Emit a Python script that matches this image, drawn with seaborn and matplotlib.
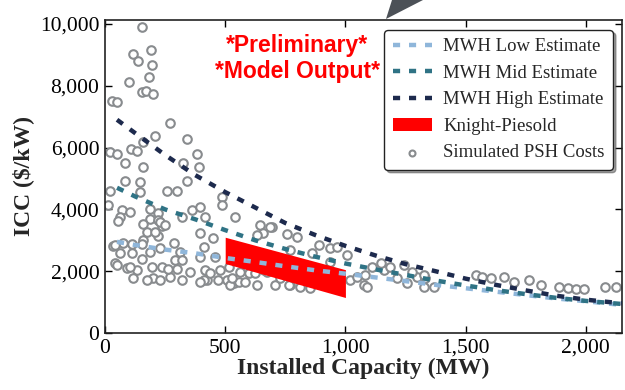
import matplotlib
matplotlib.use("Agg")
import matplotlib.pyplot as plt
from matplotlib.patches import Polygon
from matplotlib.ticker import FuncFormatter
import seaborn as sns
import pandas as pd

# MWH cost estimate curves ($/kW vs installed MW)
mwh_mw = [50, 125, 250, 375, 500, 625, 750, 875, 1000, 1125, 1250, 1375,
          1500, 1625, 1750, 1875, 2000, 2150]
mwh_low = [2950, 2850, 2700, 2580, 2430, 2300, 2160, 2030, 1920, 1800, 1680,
           1560, 1450, 1340, 1230, 1120, 1030, 910]
mwh_mid = [4700, 4420, 4000, 3680, 3330, 3000, 2720, 2470, 2250, 2060, 1880,
           1700, 1540, 1390, 1260, 1140, 1040, 940]
mwh_high = [6900, 6470, 5760, 5110, 4560, 4060, 3560, 3170, 2820, 2510, 2230,
            2000, 1760, 1560, 1380, 1210, 1080, 960]

# Knight-Piesold cost band
kp_mw = [500, 1000]
kp_low = [2250, 1150]
kp_high = [3100, 2050]

# Simulated PSH project costs
sim_mw = [153, 115, 192, 139, 194, 183, 101, 153, 170, 201, 28, 49, 271,
          208, 157, 343, 21, 49, 107, 132, 382, 83, 160, 326, 389, 340, 83, 146,
          21, 257, 299, 146, 14, 69, 104, 62, 187, 222, 187, 222, 361, 396, 320,
          160, 236, 542, 486, 486, 417, 646, 694, 757, 799, 658,
          55, 229, 250, 396, 35, 76, 111, 160, 222, 285, 62, 111, 153, 187, 229,
          312, 42, 90, 132, 194, 236, 299, 292, 201, 229, 174, 271, 320, 118,
          410, 417, 424, 458, 514, 562, 597, 507, 535, 556, 632, 396, 451,
          687, 632, 889, 937, 965, 771, 861, 1007, 937, 625, 660, 708, 729, 771,
          812, 854, 1021, 1076, 1049, 1083, 1160, 1215, 1243,
          1090, 1111, 1146, 1187, 1257, 1299, 1368, 1333,
          1278, 1326, 1326, 1542, 1569, 1604, 1660, 1701, 1764, 1812, 1889,
          1924, 1958, 1993, 2079, 2125,
          42, 49, 104, 410, 472, 521, 674, 764,
          153, 174, 208, 320, 354, 264, 437, 479, 528, 583, 396]
sim_icc = [9900, 9030, 9160, 8810, 8670, 8290, 8130, 7790, 7830, 7720, 7510,
           7490, 6790,
           6390, 6170, 6270, 5870, 5790, 5940, 5900, 5780, 5510, 5380, 5510, 5380,
           4920, 4920, 4880, 4580, 4600, 4600, 4570, 4140, 3980, 3930, 3740, 4000,
           3870, 3680, 3660, 3980, 4070, 3740, 3530, 3460, 3740, 4390, 4140, 3760,
           3490, 3420, 3200, 3120, 3240,
           3630, 3600, 3500, 3230, 2820, 2900, 2880, 3010, 3140, 2900, 2580, 2580,
           2390, 2630, 2740, 2630, 2260, 2090, 2040, 2150, 2150, 2060, 2360, 1770,
           1720, 1720, 1820, 1720, 1770,
           2790, 2040, 1720, 2470, 2150, 1980, 1930, 1720, 1610, 1660, 1550, 2470,
           3060,
           3440, 3170, 2850, 2740, 2790, 2690, 2580, 2520, 2310, 1930, 2040, 1550,
           1770, 1550, 1500, 1450, 1720, 1550, 1820, 1880, 2040, 1770, 2200,
           1500, 2150, 2260, 2150, 1610, 1820, 1500, 1770,
           1980, 1880, 1500, 1880, 1820, 1770, 1820, 1660, 1720, 1550, 1480,
           1450, 1410, 1410, 1500, 1500,
           2850, 2200, 2150, 1720, 1720, 1550, 1980, 1550,
           2880, 3280, 3280, 2360, 1980, 2060, 1930, 2040, 1770, 1660, 1660]

x_ticks = [0, 500, 1000, 1500, 2000]
y_ticks = [0, 2000, 4000, 6000, 8000, 10000]

sns.set_theme(style="ticks")
plt.rcParams["font.family"] = ["Liberation Serif", "DejaVu Serif"]

fig = plt.figure(figsize=(6.25, 3.9), dpi=100)
ax = fig.add_axes([0.168, 0.146, 0.827, 0.803])

sim_df = pd.DataFrame({"mw": sim_mw, "icc": sim_icc})
sns.scatterplot(data=sim_df, x="mw", y="icc", ax=ax, marker="o", s=38,
                facecolor="white", edgecolor="#888b8e", linewidth=1.5,
                zorder=2, label="Simulated PSH Costs")

ax.fill_between(kp_mw, kp_low, kp_high, color="#ff0000", lw=0, zorder=3,
                label="Knight-Piesold")

dash = (0, (1.6, 2.0))
for vals, col, name in [(mwh_low, "#8fb6da", "MWH Low Estimate"),
                        (mwh_mid, "#2f7385", "MWH Mid Estimate"),
                        (mwh_high, "#1d2a4d", "MWH High Estimate")]:
    sns.lineplot(x=mwh_mw, y=vals, ax=ax, color=col, lw=3.2, linestyle=dash,
                 solid_capstyle="butt", dash_capstyle="butt", zorder=4,
                 label=name)

ax.set_xlim(0, 2150)
ax.set_ylim(0, 10130)
ax.set_xticks(x_ticks)
ax.set_yticks(y_ticks)
fmt = FuncFormatter(lambda v, p: f"{int(v):,}")
ax.xaxis.set_major_formatter(fmt)
ax.yaxis.set_major_formatter(fmt)
ax.tick_params(direction="in", top=True, right=True, length=5, width=1,
               labelsize=15.5, colors="black", pad=4)
for sp in ax.spines.values():
    sp.set_visible(True)
    sp.set_color("#222222")
    sp.set_linewidth(1.2)

ax.set_xlabel("Installed Capacity (MW)", fontsize=17, fontweight="bold",
              labelpad=0)
ax.set_ylabel("ICC ($/kW)", fontsize=17, fontweight="bold", labelpad=4)

ax.text(0.372, 0.918, "*Preliminary*", transform=ax.transAxes, color="red",
        fontsize=16.5, fontweight="bold", ha="center", va="center",
        family=["Liberation Sans", "DejaVu Sans"])
ax.text(0.373, 0.834, "*Model Output*", transform=ax.transAxes, color="red",
        fontsize=16.5, fontweight="bold", ha="center", va="center",
        family=["Liberation Sans", "DejaVu Sans"])

handles, labels = ax.get_legend_handles_labels()
order = ["MWH Low Estimate", "MWH Mid Estimate", "MWH High Estimate",
         "Knight-Piesold", "Simulated PSH Costs"]
hmap = dict(zip(labels, handles))
leg = ax.legend([hmap[k] for k in order], order, loc="upper right",
                bbox_to_anchor=(0.983, 0.968), borderaxespad=0, fontsize=13.5,
                frameon=True, fancybox=True, shadow=True, handlelength=2.1,
                handletextpad=0.6, labelspacing=0.5, borderpad=0.45,
                markerscale=0.7)
leg.get_frame().set_edgecolor("#222222")
leg.get_frame().set_linewidth(1.0)

# callout pointer above the plot frame
fig.patches.append(Polygon([(386 / 625, 1 - 19 / 390), (392 / 625, 1.0),
                            (423 / 625, 1.0)], closed=True,
                           transform=fig.transFigure, facecolor="#4c5157",
                           edgecolor="none", zorder=10))

fig.savefig("out.png", dpi=100, facecolor="white")
